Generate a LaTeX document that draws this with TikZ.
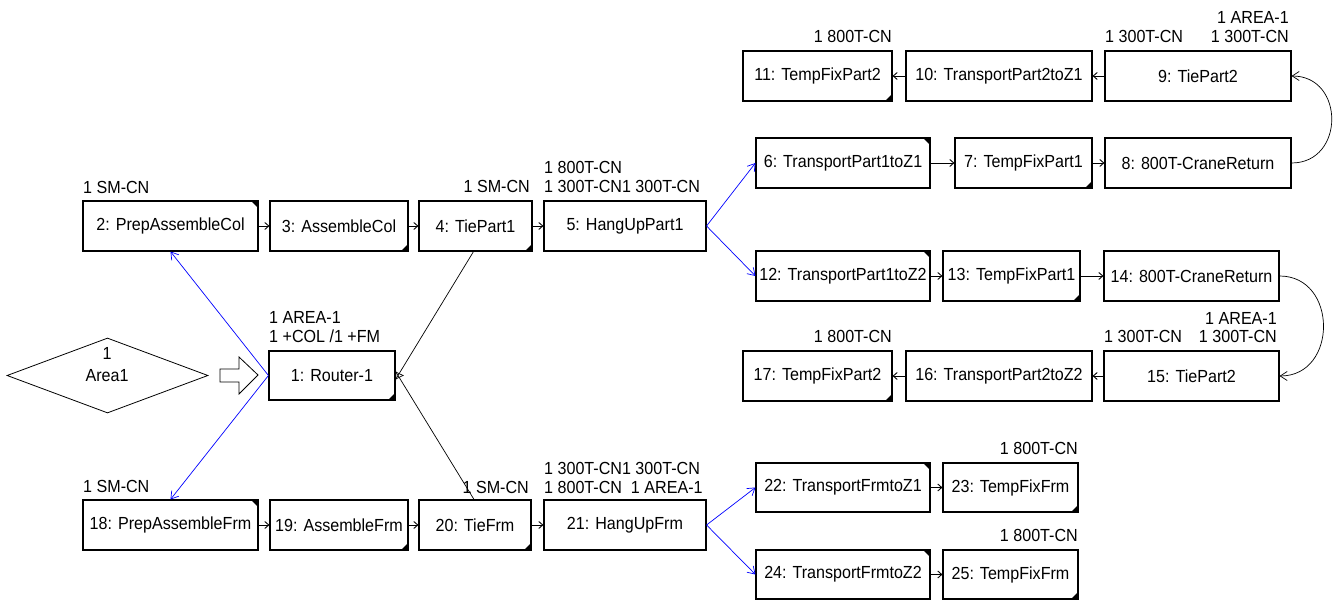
\documentclass[tikz,border=0pt]{standalone}
\usepackage{fontspec}
\setmainfont[FakeStretch=0.92]{Liberation Sans}
\usetikzlibrary{arrows.meta,shapes.geometric}
\newcommand{\cornTR}[1]{\fill (#1.north east) -- ++(-8pt,0) -- ++(8pt,-8pt) -- cycle;}
\newcommand{\cornBR}[1]{\fill (#1.south east) -- ++(-8pt,0) -- ++(8pt,8pt) -- cycle;}
\begin{document}
\begin{tikzpicture}[x=1pt,y=-1pt,
  every node/.style={font=\fontsize{17.5}{19}\selectfont},
  box/.style={draw,line width=1.1pt,minimum height=49pt,inner sep=0pt},
  lbl/.style={inner sep=0pt},
  seq/.style={line width=0.9pt,-{Straight Barb[length=4pt,width=7pt]}},
  blk/.style={line width=0.7pt,-{Straight Barb[length=7pt,width=9pt]}},
  blu/.style={blue,line width=0.7pt,-{Straight Barb[length=7pt,width=9pt]}}]
\useasboundingbox (0,0) rectangle (1336,601);
% boxes
\node[box,minimum width=126pt] (b1) at (332,375.5) {1: Router-1};
\node[box,minimum width=175pt,minimum height=50pt] (b2) at (170.5,226) {2: PrepAssembleCol};
\node[box,minimum width=138pt,minimum height=50pt] (b3) at (339,226) {3: AssembleCol};
\node[box,minimum width=113pt,minimum height=50pt] (b4) at (475.5,226) {4: TiePart1};
\node[box,minimum width=162pt,minimum height=50pt] (b5) at (625,226) {5: HangUpPart1};
\node[box,minimum width=174pt,minimum height=50pt] (b6) at (843,163) {6: TransportPart1toZ1};
\node[box,minimum width=137pt,minimum height=50pt] (b7) at (1023.5,163) {7: TempFixPart1};
\node[box,minimum width=186pt,minimum height=50pt] (b8) at (1198,163) {8: 800T-CraneReturn};
\node[box,minimum width=186pt,minimum height=50pt] (b9) at (1198,76) {9: TiePart2};
\node[box,minimum width=186pt,minimum height=50pt] (b10) at (999,76) {10: TransportPart2toZ1};
\node[box,minimum width=149pt,minimum height=50pt] (b11) at (817.5,76) {11: TempFixPart2};
\node[box,minimum width=174pt,minimum height=50pt] (b12) at (843,276) {12: TransportPart1toZ2};
\node[box,minimum width=137pt,minimum height=50pt] (b13) at (1011.5,276) {13: TempFixPart1};
\node[box,minimum width=175pt,minimum height=50pt] (b14) at (1191.5,276) {14: 800T-CraneReturn};
\node[box,minimum width=175pt,minimum height=50pt] (b15) at (1191.5,376) {15: TiePart2};
\node[box,minimum width=186pt,minimum height=50pt] (b16) at (999,376) {16: TransportPart2toZ2};
\node[box,minimum width=149pt,minimum height=50pt] (b17) at (817.5,376) {17: TempFixPart2};
\node[box,minimum width=175pt,minimum height=50pt] (b18) at (170.5,525) {18: PrepAssembleFrm};
\node[box,minimum width=138pt,minimum height=50pt] (b19) at (339,525) {19: AssembleFrm};
\node[box,minimum width=112pt,minimum height=50pt] (b20) at (475,525) {20: TieFrm};
\node[box,minimum width=162pt,minimum height=50pt] (b21) at (625,525) {21: HangUpFrm};
\node[box,minimum width=174pt] (b22) at (843,487.5) {22: TransportFrmtoZ1};
\node[box,minimum width=135pt] (b23) at (1010.5,487.5) {23: TempFixFrm};
\node[box,minimum width=174pt] (b24) at (843,574.5) {24: TransportFrmtoZ2};
\node[box,minimum width=135pt] (b25) at (1010.5,574.5) {25: TempFixFrm};
% diamond
\node[draw,diamond,line width=0.8pt,minimum width=201pt,minimum height=75pt,inner sep=0pt,aspect=2.68] (area) at (107.5,375.5) {};
\node[lbl] (area1) at (107,353) {1};
\node[lbl] (area2) at (107,376) {Area1};
% corner marks
\cornTR{b2}\cornTR{b6}\cornTR{b12}\cornTR{b18}\cornTR{b22}\cornTR{b24}
\cornBR{b1}\cornBR{b3}\cornBR{b4}\cornBR{b7}\cornBR{b11}\cornBR{b13}\cornBR{b17}
\cornBR{b19}\cornBR{b20}\cornBR{b23}\cornBR{b25}
% labels
\node[lbl,anchor=west] (l2) at (83,187) {1 SM-CN};
\node[lbl,anchor=east] (l4) at (530,186) {1 SM-CN};
\node[lbl,anchor=west] (l5a) at (544,167) {1 800T-CN};
\node[lbl,anchor=west] (l5b) at (544,186) {1 300T-CN1 300T-CN};
\node[lbl,anchor=west] (l1a) at (269,317) {1 AREA-1};
\node[lbl,anchor=west] (l1b) at (269,336) {1 +COL /1 +FM};
\node[lbl,anchor=east] (l11) at (892,36) {1 800T-CN};
\node[lbl,anchor=west] (l9a) at (1105,36) {1 300T-CN};
\node[lbl,anchor=east] (l9b) at (1289,17) {1 AREA-1};
\node[lbl,anchor=east] (l9c) at (1289,36) {1 300T-CN};
\node[lbl,anchor=east] (l17) at (892,336) {1 800T-CN};
\node[lbl,anchor=west] (l15a) at (1104,336) {1 300T-CN};
\node[lbl,anchor=east] (l15b) at (1277,318) {1 AREA-1};
\node[lbl,anchor=east] (l15c) at (1277,336) {1 300T-CN};
\node[lbl,anchor=west] (l18) at (83,486) {1 SM-CN};
\node[lbl,anchor=east] (l20) at (529,487) {1 SM-CN};
\node[lbl,anchor=west] (l21a) at (544,468) {1 300T-CN1 300T-CN};
\node[lbl,anchor=west] (l21b) at (544,487) {1 800T-CN\ \ 1 AREA-1};
\node[lbl,anchor=east] (l23) at (1078,448) {1 800T-CN};
\node[lbl,anchor=east] (l25) at (1078,535) {1 800T-CN};
% block arrow
\draw[line width=0.8pt] (220,369) -- (239,369) -- (239,357) -- (258,375) -- (239,394) -- (239,382) -- (220,382) -- cycle;
% sequential
\draw[seq] (b2.east) -- (b3.west);
\draw[seq] (b3.east) -- (b4.west);
\draw[seq] (b4.east) -- (b5.west);
\draw[seq] (b6.east) -- (b7.west);
\draw[seq] (b7.east) -- (b8.west);
\draw[seq] (b9.west) -- (b10.east);
\draw[seq] (b10.west) -- (b11.east);
\draw[seq] (b12.east) -- (b13.west);
\draw[seq] (b13.east) -- (b14.west);
\draw[seq] (b15.west) -- (b16.east);
\draw[seq] (b16.west) -- (b17.east);
\draw[seq] (b18.east) -- (b19.west);
\draw[seq] (b19.east) -- (b20.west);
\draw[seq] (b20.east) -- (b21.west);
\draw[seq] (b22.east) -- (b23.west);
\draw[seq] (b24.east) -- (b25.west);
% curves
\draw[blk] (b8.east) .. controls (1345,163) and (1345,76) .. (b9.east);
\draw[blk] (b14.east) .. controls (1338,276) and (1338,376) .. (b15.east);
% blue
\draw[blu] (b1.west) -- (b2.south);
\draw[blu] (b1.west) -- (b18.north);
\draw[blu] (b5.east) -- (b6.west);
\draw[blu] (b5.east) -- (b12.west);
\draw[blu] (b21.east) -- (b22.west);
\draw[blu] (b21.east) -- (b24.west);
% black to router
\draw[blk] ([xshift=-2pt]b4.south) -- ([yshift=-4pt]b1.east);
\draw[blk] ([xshift=-1pt]b20.north) -- ([yshift=4pt]b1.east);
\end{tikzpicture}
\end{document}
